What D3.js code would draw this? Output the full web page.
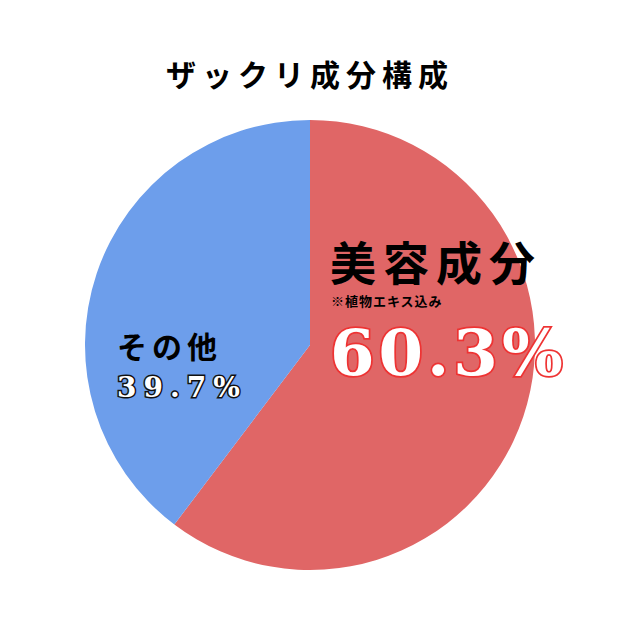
<!DOCTYPE html>
<html lang="ja">
<head>
<meta charset="UTF-8">
<style>
  body { margin: 0; background: #fff; }
  svg { display: block; }
  .jp { font-family: "Noto Sans CJK JP", sans-serif; font-weight: 700; }
  .num { font-family: "DejaVu Serif", serif; font-weight: 700; }
</style>
</head>
<body>
<svg width="620" height="620"></svg>
<script src="https://d3js.org/d3.v7.min.js"></script>
<script>
  const categories = ["美容成分", "その他"];
  const values = [60.3, 39.7];
  const colors = ["#e06666", "#6d9eeb"];
  const valueLabels = ["60.3%", "39.7%"];

  const svg = d3.select("svg");
  const cx = 310, cy = 345, r = 225;

  svg.append("text").attr("class", "jp")
    .attr("x", 310).attr("y", 86).attr("text-anchor", "middle")
    .style("font-size", "30px").style("letter-spacing", "6px")
    .text("ザックリ成分構成");

  const pie = d3.pie().sort(null).value(d => d)(values);
  const arc = d3.arc().innerRadius(0).outerRadius(r);
  const g = svg.append("g").attr("transform", `translate(${cx},${cy})`);
  g.selectAll("path").data(pie).enter().append("path")
    .attr("d", arc).attr("fill", (d, i) => colors[i]);

  // 美容成分 label
  svg.append("text").attr("class", "jp")
    .attr("x", 330).attr("y", 280)
    .style("font-size", "46px").style("letter-spacing", "7px")
    .text(categories[0]);
  svg.append("text").attr("class", "jp")
    .attr("x", 331).attr("y", 306)
    .style("font-size", "13px").style("letter-spacing", "1px")
    .text("※植物エキス込み");
  svg.append("text").attr("class", "num")
    .attr("x", 330).attr("y", 375)
    .style("font-size", "64px").style("letter-spacing", "4px")
    .attr("fill", "#fff").attr("stroke", "#ee3333").attr("stroke-width", 3.5)
    .attr("paint-order", "stroke")
    .text(valueLabels[0]);

  // その他 label
  svg.append("text").attr("class", "jp")
    .attr("x", 117).attr("y", 358)
    .style("font-size", "30px").style("letter-spacing", "5px")
    .text(categories[1]);
  svg.append("text").attr("class", "num")
    .attr("x", 117).attr("y", 397)
    .style("font-size", "28px").style("letter-spacing", "7px")
    .attr("fill", "#fff").attr("stroke", "#111").attr("stroke-width", 3)
    .attr("paint-order", "stroke")
    .text(valueLabels[1]);
</script>
</body>
</html>
